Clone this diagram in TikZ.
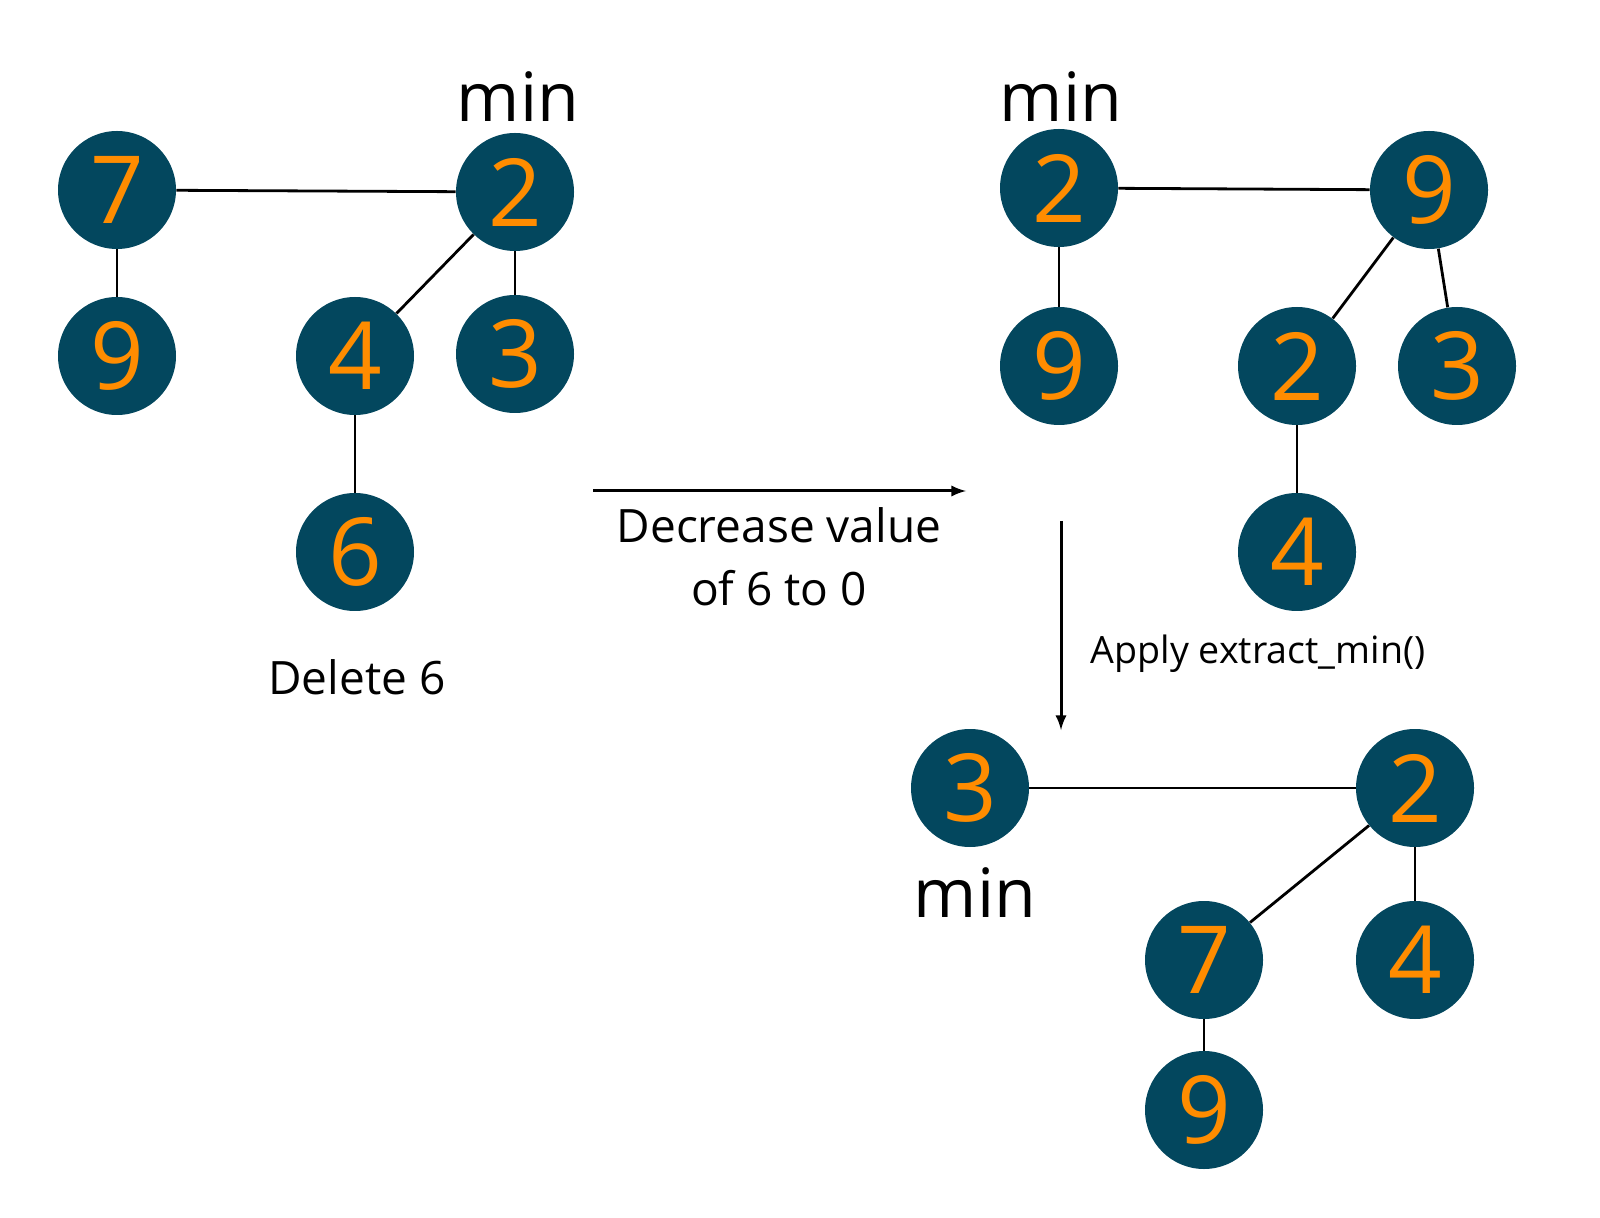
\documentclass[tikz,border=0pt]{standalone}
\usepackage{fontspec}
\setmainfont{Open Sans}
\definecolor{heapteal}{RGB}{3,71,94}
\definecolor{keyorange}{RGB}{255,140,0}
\begin{document}
\begin{tikzpicture}[x=0.5pt,y=-0.5pt]
    \tikzset{>=latex}
    \tikzset{key/.style={circle,fill=heapteal,text=keyorange,minimum size=59pt,inner sep=0pt,font=\fontsize{47}{47}\selectfont}}
    \tikzset{link/.style={line width=1.4pt}}
    \tikzset{minlbl/.style={font=\fontsize{34}{34}\selectfont}}
    \tikzset{lbl/.style={font=\fontsize{23}{31.5}\selectfont,align=center}}
    \useasboundingbox (0,0) rectangle (1600,1218);
    % heap before the deletion
    \node[key] (L7) at (117,190) {7};
    \node[key] (L2) at (515,192) {2};
    \node[key] (L9) at (117,356) {9};
    \node[key] (L4) at (355,356) {4};
    \node[key] (L3) at (515,354) {3};
    \node[key] (L6) at (355,552) {6};
    \node[minlbl] (Lmin) at (518,97) {min};
    \node[lbl] (del) at (357,677) {Delete 6};
    \draw[link] (L7) -- (L2);
    \draw[link] (L7) -- (L9);
    \draw[link] (L2) -- (L4);
    \draw[link] (L2) -- (L3);
    \draw[link] (L4) -- (L6);
    % heap after decrease key
    \node[key] (R2) at (1059,188) {2};
    \node[key] (R9) at (1429,190) {9};
    \node[key] (R9b) at (1059,366) {9};
    \node[key] (R2b) at (1297,366) {2};
    \node[key] (R3) at (1457,366) {3};
    \node[key] (R4) at (1297,552) {4};
    \node[minlbl] (Rmin) at (1061,97) {min};
    \draw[link] (R2) -- (R9);
    \draw[link] (R2) -- (R9b);
    \draw[link] (R9) -- (R2b);
    \draw[link] (R9) -- (R3);
    \draw[link] (R2b) -- (R4);
    % heap after extract_min
    \node[key] (B3) at (970,788) {3};
    \node[key] (B2) at (1415,788) {2};
    \node[key] (B7) at (1204,960) {7};
    \node[key] (B4) at (1415,960) {4};
    \node[key] (B9) at (1204,1110) {9};
    \node[minlbl] (Bmin) at (975,893) {min};
    \draw[link] (B3) -- (B2);
    \draw[link] (B2) -- (B7);
    \draw[link] (B2) -- (B4);
    \draw[link] (B7) -- (B9);
    % steps
    \coordinate (h1) at (593,491);
    \coordinate (h2) at (966,491);
    \coordinate (v1) at (1061,521);
    \coordinate (v2) at (1061,730);
    \draw[->,line width=1.5pt] (h1) -- (h2);
    \draw[->,line width=1.5pt] (v1) -- (v2);
    \node[lbl] (dec) at (779,557) {Decrease value\\of 6 to 0};
    \node[lbl,font=\fontsize{18.8}{20}\selectfont] (ext) at (1258,654) {Apply extract\_min()};
\end{tikzpicture}
\end{document}
